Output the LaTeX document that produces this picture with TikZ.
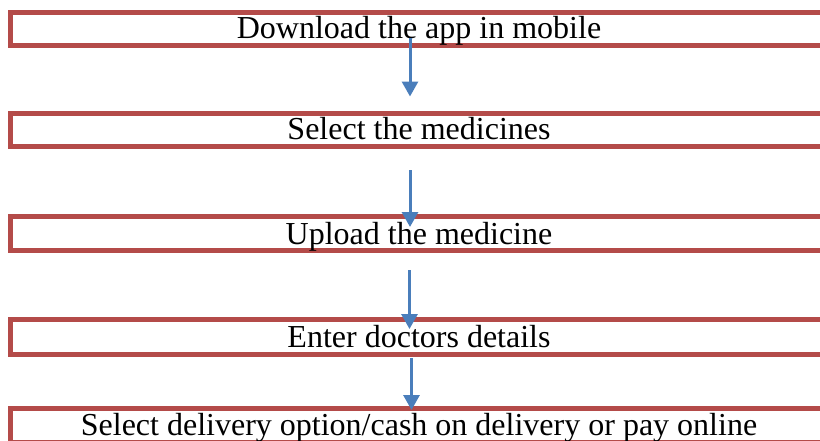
\documentclass[tikz,border=0pt]{standalone}
\usepackage{fontspec}
\setmainfont{Liberation Serif}
\usetikzlibrary{arrows.meta}
\definecolor{boxred}{RGB}{180,75,73}
\definecolor{flowblue}{RGB}{74,126,187}
\begin{document}
\begin{tikzpicture}[x=1pt,y=-1pt,
  stepbox/.style={draw=boxred,line width=5pt,fill=none,inner sep=0pt,
    minimum width=817.5pt},
  steptext/.style={anchor=base,inner sep=0pt,text=black,
    font=\fontsize{32}{38}\selectfont},
  flow/.style={draw=flowblue,line width=3pt,
    -{Triangle[width=16pt,length=15pt]}}]
\useasboundingbox (0,0) rectangle (820,440);
\clip (0,0) rectangle (820,440);
% step frames
\node[stepbox,minimum height=33pt]   (b1) at (419.5,29)    {};
\node[stepbox,minimum height=33.3pt] (b2) at (419.5,129.85) {};
\node[stepbox,minimum height=33.7pt] (b3) at (419.5,233.35) {};
\node[stepbox,minimum height=34.4pt] (b4) at (419.5,337)   {};
\node[stepbox,minimum height=34pt]   (b5) at (419.5,425.5) {};
% step labels
\node[steptext] (t1) at (419,38)    {Download the app in mobile};
\node[steptext] (t2) at (419,139.3) {Select the medicines};
\node[steptext] (t3) at (419,244)   {Upload the medicine};
\node[steptext] (t4) at (419,347)   {Enter doctors details};
\node[steptext] (t5) at (419,435)   {Select delivery option/cash on delivery or pay online};
% arrow end points
\coordinate (a1s) at (410,38);    \coordinate (a1e) at (410,96.5);
\coordinate (a2s) at (410,170);   \coordinate (a2e) at (410,227);
\coordinate (a3s) at (409.5,270); \coordinate (a3e) at (409.5,329);
\coordinate (a4s) at (411.5,358); \coordinate (a4e) at (411.5,410);
\draw[flow] (a1s) -- (a1e);
\draw[flow] (a2s) -- (a2e);
\draw[flow] (a3s) -- (a3e);
\draw[flow] (a4s) -- (a4e);
\end{tikzpicture}
\end{document}
